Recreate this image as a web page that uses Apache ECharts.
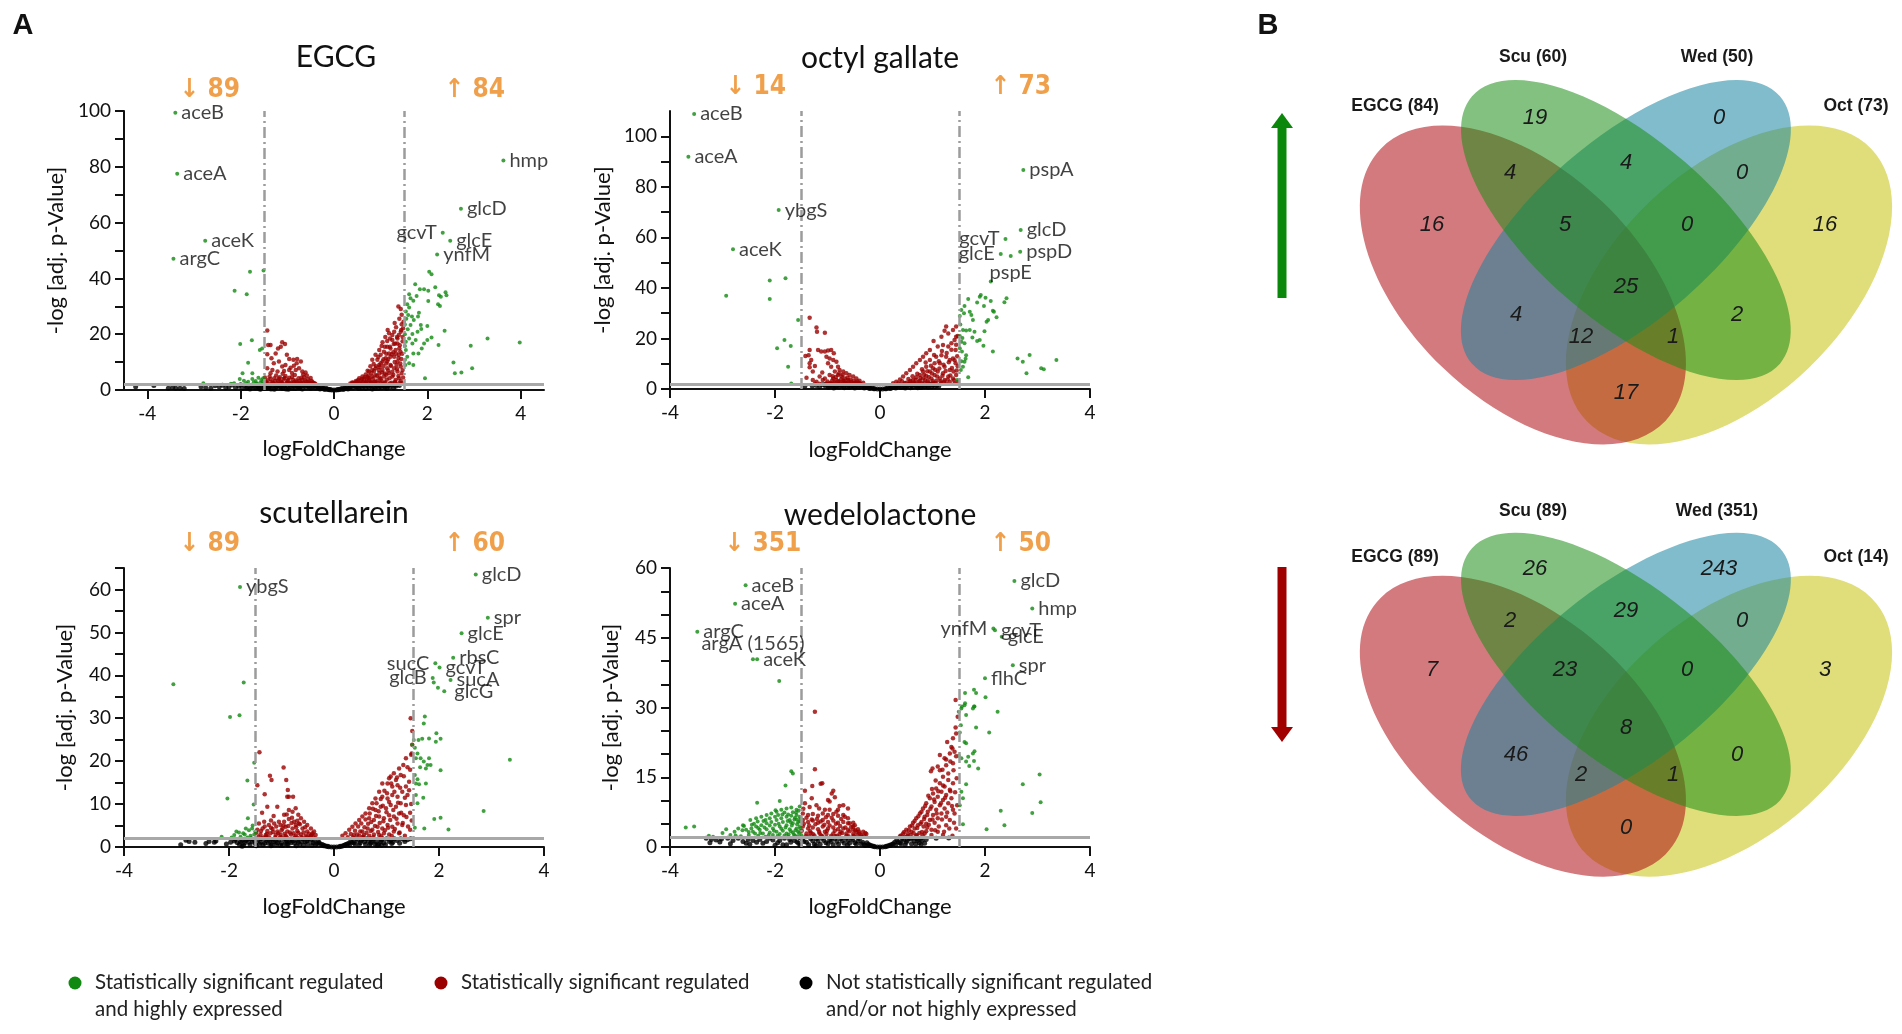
<!DOCTYPE html>
<html><head><meta charset="utf-8">
<script src="https://cdn.jsdelivr.net/npm/echarts@6/dist/echarts.min.js"></script>
<style>html,body{margin:0;padding:0;background:#fff}#c{width:1902px;height:1034px}</style>
</head><body><div id="c"></div>
<script>
// ---------------- DATA ----------------
const panelTitles = ['EGCG', 'octyl gallate', 'scutellarein', 'wedelolactone'];
const downCounts = [89, 14, 89, 351];
const upCounts = [84, 73, 60, 50];
const xTickValues = [-4, -2, 0, 2, 4];
const egcgYTicks = [0,10,20,30,40,50,60,70,80,90,100];
const egcgYLabels = [0,20,40,60,80,100];
const octYTicks = [0,10,20,30,40,50,60,70,80,90,100];
const octYLabels = [0,20,40,60,80,100];
const scuYTicks = [0,5,10,15,20,25,30,35,40,45,50,55,60,65];
const scuYLabels = [0,10,20,30,40,50,60];
const wedYTicks = [0,5,10,15,20,25,30,35,40,45,50,55,60];
const wedYLabels = [0,15,30,45,60];
const legendNames = ['Statistically significant regulated\nand highly expressed', 'Statistically significant regulated', 'Not statistically significant regulated\nand/or not highly expressed'];

// labelled genes: [name, logFoldChange, -log adj p]
const egcgLabeled = [['aceB',-3.40,99.4],['aceA',-3.36,77.5],['aceK',-2.76,53.5],['argC',-3.44,47.0],['hmp',3.63,82.3],['glcD',2.72,65.0],['gcvT',2.33,56.4],['glcE',2.49,53.5],['ynfM',2.21,48.6]];
const egcgGreen = [[-1.80,42.4],[-1.51,42.8],[-2.13,35.6],[-1.87,34.3],[-2.01,16.5],[-1.76,17.8],[-1.59,14.3],[-1.54,14.9],[-1.84,9.8],[-1.96,6.0],[-1.75,6.0],[-2.80,2.4],[-2.02,3.9],[-1.93,3.3],[-1.84,3.0],[-1.75,3.9],[-1.68,3.2],[-1.62,4.4],[-1.56,3.6],[-1.52,4.2],[-2.14,2.4],[-2.21,2.2],[-1.58,2.6],[-1.66,2.4],[-1.72,2.8],[-1.88,2.4],[-1.53,3.0],
[2.04,42.4],[2.09,41.5],[1.74,37.9],[1.84,36.1],[1.93,36.1],[2.17,36.8],[2.02,35.6],[2.39,35.0],[2.41,34.0],[2.25,34.0],[2.29,33.4],[1.61,34.3],[1.64,32.9],[1.70,32.0],[1.77,33.7],[1.57,30.7],[1.61,29.6],[1.54,28.1],[1.59,26.9],[1.67,26.3],[1.82,27.7],[1.80,26.3],[2.02,31.9],[2.23,30.7],[2.27,30.1],[1.71,25.1],[1.64,23.3],[1.52,23.5],[1.86,23.3],[2.00,22.9],[1.87,21.9],[1.79,20.9],[1.68,20.1],[2.37,21.2],[1.61,18.5],[1.54,17.3],[1.68,16.7],[1.75,17.9],[1.93,16.7],[2.00,17.9],[2.09,18.8],[2.24,16.1],[1.54,14.3],[1.70,13.1],[1.81,13.1],[1.88,14.9],[1.57,11.9],[1.52,10.8],[1.61,9.6],[1.70,9.0],[1.53,9.0],[1.95,4.2],[3.29,18.5],[2.93,15.9],[2.56,9.9],[2.59,6.0],[2.73,6.3],[2.96,7.8],[3.98,17.0],[1.52,20.0],[1.55,25.5],[1.52,15.8],[1.58,21.8]];
const egcgRed = [[-1.43,21.3],[-1.41,16.1],[-1.36,16.1],[-1.11,17.1],[-1.05,16.5],[-1.14,15.5],[-1.20,14.9],[-1.43,12.8],[-1.34,11.4],[-1.25,13.1],[-1.01,12.6],[-0.96,11.1],[-0.87,10.8],[-0.79,11.1],[-0.80,9.6],[-0.71,10.2],[-1.29,9.6],[-1.18,10.2],[-1.11,8.4],[-1.04,9.0],[-0.93,8.0],[-0.86,8.7],[-1.43,7.8],[-1.32,7.2],[-1.21,6.6],[-1.07,6.8],[-0.96,7.2],[-0.82,7.2],[-0.75,7.8],[-0.68,6.6],[-0.61,6.3],
[-1.48,4.5],[-1.42,3.5],[-1.38,4.8],[-1.33,3.0],[-1.28,4.2],[-1.24,5.2],[-1.20,3.4],[-1.16,4.6],[-1.12,2.8],[-1.08,3.9],[-1.04,5.0],[-1.00,3.2],[-0.96,4.4],[-0.92,2.6],[-0.88,3.7],[-0.84,5.4],[-0.80,3.0],[-0.76,4.2],[-0.72,2.7],[-0.68,3.6],[-0.64,4.6],[-0.60,3.0],[-0.56,3.9],[-0.52,2.6],[-0.48,3.2],[-0.44,2.5],[-0.40,2.2],[-1.45,2.5],[-1.30,2.3],[-1.15,2.2],[-1.00,2.4],[-0.85,2.3],[-0.70,2.2],[-0.55,2.2],[-1.36,6.0],[-1.10,5.8],[-0.90,6.1],[-0.66,5.6],[-0.58,5.2],[-0.50,4.3],
[-1.46,3.0],[-1.40,2.2],[-1.36,3.9],[-1.31,2.6],[-1.26,3.3],[-1.22,2.4],[-1.18,4.0],[-1.14,3.1],[-1.10,2.4],[-1.06,4.3],[-1.02,2.6],[-0.98,3.6],[-0.94,2.3],[-0.90,4.7],[-0.86,2.8],[-0.82,3.4],[-0.78,2.3],[-0.74,3.2],[-0.70,4.4],[-0.66,2.5],[-0.62,3.4],[-0.58,2.4],[-0.54,3.0],[-0.50,2.3],[-0.46,2.8],[-0.42,2.3],
[1.38,29.9],[1.43,29.0],[1.45,23.6],[1.48,22.1],[1.43,20.9],[1.39,19.7],[1.29,20.9],[1.18,20.3],[1.36,18.5],[1.25,17.9],[1.31,16.7],[1.04,17.1],[1.09,15.5],[1.14,17.6],[0.97,14.3],[0.89,12.6],[0.82,10.8],[1.21,14.9],[1.32,14.3],[1.39,12.6],[1.44,11.1],[1.36,10.2],[1.29,11.9],[1.18,13.1],[1.11,11.4],[1.04,10.2],[0.97,9.0],[0.89,7.8],[0.82,7.2],[0.75,6.6],[0.68,5.6],[0.61,4.8],[0.54,4.2],[0.47,3.2],[0.39,2.7],[1.43,8.4],[1.36,6.6],[1.29,7.8],[1.21,9.0],[1.14,7.8],[1.04,7.2],[0.97,6.0],[0.89,5.4],[0.82,4.8],[0.75,4.2],[1.39,4.2],[1.32,3.6],[1.18,6.0],[1.07,4.8],[1.00,4.0],[0.93,3.4],[0.86,3.0],[0.79,3.0],[1.43,3.2],[1.25,4.8],[1.21,11.9],[1.14,10.2],[1.07,13.7],[1.00,12.6],[0.93,10.8],[1.25,19.7],[1.14,15.5],[1.36,16.7],[0.35,2.3],[0.42,2.6],[0.50,3.0],[0.58,3.4],[0.65,3.9],[0.45,2.2],[0.55,2.4],[0.62,2.8],[0.70,3.2],[0.72,4.6],[0.68,2.4],[0.78,2.6],[0.88,2.3],[1.00,2.5],[1.10,2.8],[1.20,2.4],[1.30,2.6],[1.45,2.5],
[1.10,19.0],[1.20,18.5],[1.33,22.5],[1.40,25.5],[1.45,27.0],[1.30,24.0],[1.15,21.5],[1.02,15.8],[0.95,11.8],[1.27,13.5],[1.40,15.0],[1.47,17.5],[1.34,9.0],[1.25,6.5],[1.12,5.5],[0.98,8.2],[0.85,9.3],[0.78,8.5],[0.72,6.9],[1.45,6.0],[1.42,13.8],[1.47,19.0],
[0.40,2.5],[0.48,2.9],[0.52,3.6],[0.56,2.3],[0.60,3.9],[0.64,2.5],[0.66,4.6],[0.70,2.9],[0.74,5.2],[0.76,3.6],[0.80,6.0],[0.80,2.5],[0.84,4.1],[0.86,6.8],[0.88,3.0],[0.90,8.5],[0.92,5.0],[0.94,2.6],[0.96,7.2],[0.98,4.5],[1.00,9.6],[1.02,3.3],[1.03,6.3],[1.06,11.0],[1.06,8.6],[1.08,2.5],[1.09,5.9],[1.12,13.0],[1.12,9.5],[1.13,3.8],[1.16,7.0],[1.16,11.0],[1.19,4.2],[1.20,15.5],[1.22,8.6],[1.24,2.6],[1.24,12.8],[1.27,5.5],[1.28,16.5],[1.30,10.0],[1.31,3.0],[1.33,13.0],[1.35,19.0],[1.35,7.5],[1.38,5.0],[1.38,11.5],[1.41,16.0],[1.41,2.6],[1.42,9.5],[1.46,13.0],[1.47,7.2],[1.48,4.5],[1.44,21.5],[1.49,24.5]];
const egcgBlack = [[-4.25,1.2],[-3.86,1.6],[-3.55,0.6],[-3.46,0.9],[-3.39,0.6],[-3.30,0.6],[-3.21,0.5],[-2.85,1.2],[-2.75,0.8],[-2.64,0.6],[-2.55,1.5],[-2.46,1.2],[-2.39,1.7],[-2.32,0.8],[-2.25,1.2],[-2.18,1.8],[-2.11,0.8],[-2.04,1.3],[-1.97,0.5],[-1.92,1.7],[-1.86,1.0],[-1.80,0.4],[-1.75,1.6],[-1.70,0.9],[-1.65,1.9],[-1.60,0.5],[-1.55,1.3],[-1.50,0.8],[-1.45,1.8],[-1.40,1.1],[-1.35,0.4],[-1.30,1.5],[-1.25,0.8],[-1.20,1.9],[-1.15,1.2],[-1.10,0.5],[-1.05,1.6],[-1.00,1.0],[-0.95,1.9],[-0.90,0.6],[-0.85,1.3],[-0.80,1.8],[-0.75,0.8],[-0.70,1.4],[-0.65,1.9],[-0.60,0.9],[-0.55,1.5],[-0.50,0.6],[-0.45,1.2],[-0.40,0.7],[-0.35,1.0],[-0.30,0.4],[-0.25,0.6],[-0.20,0.2],[-0.15,0.3],[-0.10,0.06],[-0.05,0.02],[0.00,0.00],[0.05,0.02],[0.10,0.06],[0.15,0.3],[0.20,0.2],[0.25,0.6],[0.30,0.4],[0.35,1.0],[0.40,0.7],[0.45,1.4],[0.50,0.9],[0.55,1.8],[0.60,0.6],[0.65,1.3],[0.70,1.9],[0.75,0.8],[0.80,1.5],[0.85,1.0],[0.90,1.8],[0.95,0.6],[1.00,1.3],[1.05,1.9],[1.10,0.9],[1.15,1.5],[1.20,1.1],[1.25,1.8],[1.32,1.3],[1.40,1.6],[-1.62,1.2],[-1.42,0.6],[-1.18,1.4],[-0.98,0.3],[-0.78,1.2],[-0.58,1.9],[-0.42,1.7],[0.42,1.8],[0.62,1.6],[0.82,0.4],[1.02,0.8],
[-1.68,0.7],[-1.63,1.5],[-1.58,0.3],[-1.53,1.9],[-1.48,0.5],[-1.43,1.4],[-1.38,0.9],[-1.33,1.8],[-1.28,0.3],[-1.23,1.2],[-1.13,0.8],[-1.08,1.3],[-1.03,0.4],[-0.93,1.1],[-0.88,1.7],[-0.83,0.5],[-0.73,1.0],[-0.68,0.4],[-0.63,1.4],[-0.53,1.0],[-0.48,1.8],[-0.38,1.4],[-0.33,0.8],[-0.28,1.1],[-0.22,0.5],[-0.18,0.8],[-0.12,0.3],[-0.08,0.15],[0.08,0.15],[0.12,0.3],[0.18,0.7],[0.22,0.5],[0.28,1.0],[0.33,0.7],[0.38,1.5],[0.48,1.2],[0.53,0.5],[0.58,1.3],[0.68,0.5],[0.73,1.3],[0.78,1.9],[0.88,0.5],[0.93,1.3],[0.98,1.6],[1.08,1.4],[1.13,0.6],[1.18,1.8],[1.28,0.8],[1.35,1.9],[-1.78,1.1],[-1.88,0.6],[-2.00,1.9]];

const octLabeled = [['aceB',-3.54,108.8],['aceA',-3.65,91.9],['ybgS',-1.93,70.8],['aceK',-2.80,55.3],['pspA',2.73,86.7],['glcD',2.68,62.9],['gcvT',2.39,59.4],['glcE',2.30,53.4],['pspD',2.67,54.3],['pspE',2.49,52.6]];
const octGreen = [[-2.93,36.9],[-2.10,42.9],[-1.80,43.8],[-2.10,35.6],[-1.56,27.3],[-1.82,19.4],[-1.96,16.1],[-1.70,17.0],[-1.75,8.8],[-1.69,2.2],
[2.11,42.5],[1.68,35.6],[1.90,36.5],[1.92,37.2],[2.01,36.1],[2.11,34.8],[1.98,32.8],[2.15,31.0],[2.17,30.6],[2.22,28.4],[2.06,27.3],[2.03,26.6],[2.37,34.3],[2.41,35.9],[1.55,31.3],[1.60,30.0],[1.71,30.6],[1.74,29.3],[1.77,27.3],[1.85,34.2],[1.61,32.8],[1.52,28.9],[1.58,23.3],[1.64,23.1],[1.71,23.3],[1.80,22.7],[1.99,22.9],[1.52,21.0],[1.55,18.7],[1.61,18.1],[1.76,20.4],[1.85,19.0],[1.90,19.4],[1.97,17.1],[2.15,14.8],[1.56,14.8],[1.64,13.4],[1.61,10.8],[1.58,8.8],[1.54,7.5],[1.68,4.6],[1.47,3.6],[1.63,12.0],[1.52,16.1],[2.62,12.1],[2.72,10.8],[2.85,13.5],[2.79,6.2],[3.07,8.2],[3.12,7.8],[3.36,11.5],[1.53,25.5],[1.57,20.2],[1.55,11.0]];
const octRed = [[-1.34,28.2],[-1.21,24.3],[-1.20,22.7],[-1.05,22.3],[-1.34,15.4],[-1.36,13.4],[-1.42,13.1],[-1.31,11.5],[-1.34,10.2],[-1.24,9.1],[-1.34,8.6],[-1.28,6.9],[-1.18,15.4],[-1.12,14.8],[-1.05,14.8],[-0.99,15.2],[-0.93,15.4],[-0.88,14.1],[-1.02,12.8],[-0.96,12.1],[-0.89,11.5],[-0.83,10.8],[-0.99,10.2],[-0.93,8.8],[-0.80,8.8],[-0.77,7.5],[-0.70,6.9],[-0.64,6.2],[-0.58,5.5],[-0.51,4.9],[-0.45,4.2],[-0.39,3.3],[-0.32,2.5],[-0.86,6.9],[-0.80,5.5],[-0.73,4.9],[-0.67,4.2],[-0.61,3.6],[-0.55,2.9],[-0.96,5.5],[-0.89,4.2],[-0.83,3.6],[-0.77,2.9],[-0.70,2.5],[-0.64,2.2],[-1.09,3.6],[-1.15,4.9],[-1.21,2.9],[-1.28,3.6],[-1.02,2.2],[-0.93,2.1],[-0.86,2.2],[-1.15,2.1],[-1.24,2.1],[-0.48,2.5],[-0.42,2.2],[-0.58,2.1],[-1.40,4.5],[-1.10,6.5],
[-1.00,3.0],[-0.95,2.4],[-0.91,3.4],[-0.87,2.7],[-0.84,4.7],[-0.80,3.1],[-0.76,2.2],[-0.74,3.9],[-0.71,5.6],[-0.68,3.1],[-0.66,2.4],[-0.62,4.5],[-0.60,2.9],[-0.56,3.8],[-0.53,2.3],[-0.50,3.2],[-0.46,2.6],[-0.43,3.0],[-0.40,2.4],[-0.37,2.1],[-0.78,6.1],[-0.90,5.0],[-1.05,4.2],[-0.70,3.4],
[1.26,24.7],[1.23,23.0],[1.17,20.7],[1.30,22.0],[1.39,23.3],[1.45,24.7],[1.02,19.0],[1.10,16.8],[1.20,17.4],[1.30,16.8],[1.36,18.1],[1.42,19.4],[1.45,20.7],[1.44,15.4],[0.95,15.4],[0.88,14.1],[0.82,12.8],[0.76,11.5],[0.69,10.2],[0.63,8.8],[0.57,7.5],[0.50,6.2],[0.44,4.9],[0.38,3.8],[0.31,2.9],[0.25,2.3],[1.07,12.8],[1.17,13.4],[1.26,12.8],[1.33,11.5],[1.39,12.1],[1.44,10.2],[1.04,10.2],[1.14,10.2],[1.23,8.8],[1.33,7.5],[1.40,6.9],[0.95,11.5],[1.01,8.2],[1.10,6.9],[1.20,6.2],[1.30,4.9],[1.39,4.2],[1.45,5.5],[0.88,8.8],[0.95,6.9],[1.04,5.5],[1.14,4.2],[1.23,3.6],[1.33,2.9],[1.42,2.2],[0.82,6.9],[0.88,5.1],[0.98,4.2],[1.07,3.3],[1.17,2.5],[1.26,2.2],[0.76,5.5],[0.82,4.2],[0.91,3.3],[1.01,2.5],[0.69,4.6],[0.76,3.3],[0.85,2.5],[0.63,3.6],[0.72,2.2],[0.57,2.9],[0.66,2.1],[0.50,2.5],[0.60,2.1],[1.48,2.8],[1.48,9.0],[1.47,13.0],
[0.35,2.3],[0.42,3.1],[0.47,2.4],[0.54,4.0],[0.58,3.2],[0.62,5.0],[0.65,2.6],[0.68,3.6],[0.71,6.0],[0.74,2.9],[0.77,4.4],[0.80,7.8],[0.80,2.4],[0.84,5.6],[0.86,3.6],[0.87,10.5],[0.90,7.0],[0.92,2.6],[0.93,4.7],[0.97,9.2],[0.99,6.1],[1.00,3.2],[1.03,13.5],[1.05,7.6],[1.06,2.4],[1.09,4.9],[1.12,11.0],[1.13,8.1],[1.15,3.1],[1.18,15.0],[1.19,5.2],[1.21,9.6],[1.22,2.9],[1.25,7.1],[1.27,14.2],[1.29,3.8],[1.31,10.6],[1.34,5.3],[1.36,15.5],[1.37,8.3],[1.41,3.5],[1.42,11.4],[1.45,17.5],[1.46,7.3],[1.48,21.0]];
const octBlack = [[-1.43,1.2],[-1.29,1.2],[-1.21,1.4],[-1.04,1.2],[-0.96,1.2],[-1.00,1.6],[-0.90,1.2],[-0.80,1.8],[-0.70,1.0],[-0.60,1.5],[-0.50,0.9],[-0.45,1.7],[-0.40,0.6],[-0.35,1.2],[-0.30,0.35],[-0.25,0.8],[-0.20,0.15],[-0.15,0.4],[-0.10,0.05],[0.00,0.00],[0.10,0.05],[0.15,0.4],[0.20,0.15],[0.25,0.8],[0.30,0.35],[0.35,1.2],[0.40,0.6],[0.45,1.6],[0.50,0.9],[0.60,1.4],[0.70,1.0],[0.80,1.7],[0.90,1.2],[1.00,1.5],[1.05,1.0],[-0.95,1.9],[-0.85,0.9],[-0.75,1.4],[-0.65,1.9],[-0.55,1.2],[0.55,1.9],[0.65,1.8],[0.75,1.3],[0.85,0.9],[0.95,1.9],[-0.05,0.02],[0.05,0.02],[-1.10,1.7],[-0.62,0.7],[-0.48,0.4],[0.48,0.4],[0.62,0.7],[0.78,0.6],[0.92,0.7],[1.08,1.4],
[-1.15,0.9],[-1.05,1.8],[-0.98,0.6],[-0.92,1.6],[-0.88,0.4],[-0.82,1.2],[-0.78,0.7],[-0.72,1.6],[-0.68,0.5],[-0.58,0.6],[-0.52,1.5],[-0.42,1.1],[-0.38,1.8],[-0.32,0.9],[-0.28,0.6],[-0.22,0.5],[-0.18,0.25],[-0.12,0.1],[0.12,0.1],[0.18,0.25],[0.22,0.5],[0.28,0.6],[0.32,0.9],[0.38,1.7],[0.42,1.1],[0.52,1.4],[0.58,0.5],[0.68,1.4],[0.72,0.5],[0.82,1.2],[0.88,1.7],[0.98,0.9],[1.02,1.9],[1.12,1.2]];

const scuLabeled = [['ybgS',-1.79,60.6],['glcD',2.70,63.5],['spr',2.93,53.4],['glcE',2.43,49.8],['rbsC',2.27,44.1],['sucC',1.93,42.8],['gcvT',2.01,41.8],['sucA',2.22,38.9],['glcB',1.88,39.4],['glcG',2.10,36.3]];
const scuGreen = [[-3.06,37.9],[-1.72,38.3],[-1.98,30.3],[-1.80,30.7],[-1.52,19.6],[-1.65,15.5],[-2.03,11.3],[-1.53,9.9],[-1.64,6.7],[-1.68,4.3],[-1.62,3.9],[-1.56,4.3],[-1.50,3.6],[-1.73,3.2],[-1.81,3.4],[-1.90,2.8],[-1.95,2.2],[-1.59,2.6],[-1.52,2.9],[-2.14,2.4],[-1.65,2.2],[-1.78,2.4],[-1.86,3.6],[-1.55,5.0],[-1.70,2.9],
[1.73,30.4],[1.71,28.8],[1.52,24.9],[1.61,24.9],[1.68,25.2],[1.81,25.3],[1.95,26.5],[2.03,25.2],[1.94,24.5],[1.49,23.8],[1.54,23.1],[1.59,21.8],[1.56,20.7],[1.65,20.7],[1.71,19.9],[1.78,19.1],[1.84,19.1],[1.81,20.7],[1.75,18.3],[1.64,18.6],[2.03,17.9],[1.54,16.8],[1.59,15.8],[1.56,14.8],[1.62,14.6],[1.75,14.8],[1.70,11.5],[1.56,12.1],[1.59,10.2],[1.54,4.5],[1.72,4.3],[1.91,6.5],[2.03,6.8],[2.18,4.1],[2.85,8.4],[3.35,20.3],[1.90,38.3],[1.98,37.1]];
const scuRed = [[-1.42,22.1],[-1.46,14.4],[-1.22,16.6],[-1.19,15.6],[-1.32,12.3],[-1.27,9.4],[-1.08,9.4],[-0.96,18.5],[-0.91,15.6],[-0.89,11.7],[-0.86,11.7],[-0.78,11.7],[-0.88,13.3],[-1.43,5.5],[-1.33,5.9],[-1.24,5.1],[-1.14,5.5],[-1.05,5.9],[-0.95,7.5],[-0.86,8.6],[-0.79,8.2],[-0.73,9.0],[-0.68,7.5],[-0.63,6.7],[-0.57,5.9],[-0.51,5.1],[-0.44,4.3],[-0.38,3.6],[-1.46,4.0],[-1.36,4.3],[-1.27,3.7],[-1.17,4.2],[-1.08,3.6],[-0.98,4.3],[-0.89,3.6],[-0.79,4.3],[-0.70,3.7],[-0.60,4.3],[-0.51,3.6],[-0.41,3.2],[-1.40,2.9],[-1.30,2.8],[-1.21,3.2],[-1.11,2.8],[-1.02,2.9],[-0.92,2.6],[-0.82,2.9],[-0.73,2.6],[-0.63,2.9],[-0.54,2.6],[-0.44,2.6],[-0.35,2.8],[-0.95,5.9],[-0.86,6.5],[-0.76,5.9],[-0.67,5.5],[-1.02,5.1],[-0.92,4.7],[-0.73,5.1],[-1.37,8.0],[-1.15,7.2],[-1.30,2.3],[-1.00,2.3],[-0.70,2.2],
[-1.48,3.3],[-1.44,2.4],[-1.39,3.7],[-1.35,2.2],[-1.32,4.8],[-1.28,3.0],[-1.24,2.3],[-1.20,4.5],[-1.16,3.5],[-1.12,2.3],[-1.10,4.8],[-1.06,3.2],[-1.03,2.2],[-1.00,3.9],[-0.96,5.0],[-0.94,3.1],[-0.90,2.3],[-0.87,4.9],[-0.84,3.4],[-0.81,5.6],[-0.77,3.2],[-0.75,2.2],[-0.72,4.6],[-0.68,3.3],[-0.65,5.3],[-0.62,2.3],[-0.58,3.4],[-0.55,4.6],[-0.52,2.3],[-0.48,3.1],[-0.46,2.2],[-0.42,2.9],[-0.39,2.2],[-0.80,6.8],[-0.70,6.1],[-1.20,6.2],[-0.90,7.6],
[1.46,30.0],[1.49,23.8],[1.48,21.8],[1.37,20.7],[1.32,19.1],[1.24,18.3],[1.27,16.8],[1.18,15.6],[1.21,14.4],[1.11,14.1],[1.02,14.8],[0.92,14.8],[1.08,16.4],[1.14,17.2],[1.05,16.0],[0.86,12.9],[0.79,11.3],[0.73,10.2],[0.67,9.0],[0.60,7.8],[0.54,7.1],[0.48,6.3],[0.41,5.5],[0.35,4.7],[0.29,4.0],[0.22,3.2],[0.16,2.6],[1.40,12.1],[1.30,12.9],[1.21,11.7],[1.11,12.1],[1.02,11.3],[0.92,11.7],[1.37,9.8],[1.27,10.2],[1.18,9.4],[1.08,9.8],[0.99,9.0],[0.89,9.4],[0.79,8.6],[1.33,7.4],[1.24,7.8],[1.14,7.1],[1.05,7.4],[0.95,6.7],[0.86,7.1],[0.76,6.3],[0.67,6.7],[1.30,5.1],[1.21,5.5],[1.11,4.7],[1.02,5.1],[0.92,4.3],[0.83,4.7],[0.73,4.0],[0.64,4.3],[0.54,3.6],[1.24,3.2],[1.14,3.6],[1.05,2.9],[0.95,3.2],[0.86,2.8],[0.76,2.9],[0.67,2.6],[0.57,2.8],[0.48,2.6],[0.38,2.8],[1.43,15.2],[1.37,14.1],[1.45,8.0],[1.45,4.0],[1.35,2.6],[1.45,18.0],
[0.26,2.3],[0.32,3.0],[0.36,2.2],[0.40,3.8],[0.44,2.9],[0.46,4.8],[0.50,3.6],[0.52,5.5],[0.55,2.4],[0.58,4.6],[0.60,6.4],[0.62,3.3],[0.65,5.4],[0.68,7.8],[0.70,3.7],[0.71,5.8],[0.74,8.9],[0.75,2.3],[0.78,4.9],[0.80,7.2],[0.81,10.2],[0.84,3.5],[0.85,8.3],[0.87,5.6],[0.89,11.2],[0.90,2.5],[0.93,9.6],[0.94,6.0],[0.96,13.1],[0.97,3.9],[1.00,8.1],[1.01,12.5],[1.03,4.5],[1.05,10.5],[1.07,6.3],[1.09,14.8],[1.10,2.6],[1.13,8.6],[1.15,12.9],[1.16,4.2],[1.19,6.6],[1.20,16.2],[1.22,10.3],[1.25,3.4],[1.26,13.8],[1.28,8.0],[1.31,5.6],[1.33,16.5],[1.35,11.5],[1.38,7.0],[1.40,18.6],[1.41,4.8],[1.43,13.2],[1.47,10.0],[1.48,6.2],[1.47,21.5],[1.49,27.0]];
const scuBlack = [[-2.92,0.5],[-2.82,1.6],[-2.76,1.3],[-2.65,1.1],[-2.44,0.8],[-2.38,1.3],[-2.28,1.1],[-2.25,1.4],[-1.97,1.1],[-1.90,1.4],[-1.84,1.0],[-1.80,0.6],[-1.75,1.5],[-1.70,1.0],[-1.65,1.8],[-1.60,0.5],[-1.55,1.3],[-1.50,0.8],[-1.45,1.7],[-1.40,1.1],[-1.35,0.5],[-1.30,1.5],[-1.25,0.9],[-1.20,1.8],[-1.15,1.2],[-1.10,0.6],[-1.05,1.6],[-1.00,1.0],[-0.95,1.9],[-0.90,0.7],[-0.85,1.3],[-0.80,1.8],[-0.75,0.9],[-0.70,1.5],[-0.65,0.6],[-0.60,1.9],[-0.55,1.2],[-0.50,0.7],[-0.45,1.6],[-0.40,1.0],[-0.35,0.5],[-0.30,1.3],[-0.25,0.6],[-0.20,0.3],[-0.15,0.2],[-0.10,0.08],[-0.05,0.02],[0.00,0.00],[0.05,0.02],[0.10,0.08],[0.15,0.2],[0.20,0.35],[0.25,0.7],[0.30,0.5],[0.35,1.1],[0.40,0.7],[0.45,1.6],[0.50,1.0],[0.55,1.9],[0.60,0.6],[0.65,1.4],[0.70,0.9],[0.75,1.8],[0.80,1.2],[0.85,0.6],[0.90,1.6],[0.95,1.0],[1.00,1.9],[1.05,1.3],[1.10,0.8],[1.20,1.5],[1.27,1.9],[1.33,1.8],[1.46,1.9],[1.40,1.7],[-1.75,0.2],[-1.20,0.3],[-0.90,1.4],[0.90,0.4],[0.70,1.95],[-1.58,1.9],[-1.28,1.95],[-0.98,0.35],[-0.68,1.1],[-0.48,1.95],[0.48,0.5],[0.62,1.95],[0.82,0.35],[1.15,1.9],
[-1.78,1.2],[-1.72,0.4],[-1.68,1.5],[-1.62,1.1],[-1.52,1.5],[-1.48,0.3],[-1.42,0.7],[-1.38,1.9],[-1.32,0.9],[-1.22,1.3],[-1.18,0.5],[-1.12,1.5],[-1.08,1.0],[-1.02,0.4],[-0.92,1.1],[-0.88,0.4],[-0.82,1.0],[-0.78,1.4],[-0.72,0.3],[-0.62,1.3],[-0.58,0.4],[-0.52,1.4],[-0.42,0.4],[-0.38,1.5],[-0.32,0.8],[-0.28,1.0],[-0.22,0.6],[-0.18,0.35],[-0.12,0.15],[0.12,0.15],[0.18,0.35],[0.22,0.6],[0.28,0.9],[0.32,1.4],[0.38,1.0],[0.42,1.9],[0.52,1.5],[0.58,1.2],[0.68,0.5],[0.72,1.3],[0.78,0.7],[0.88,1.2],[0.92,1.9],[0.98,0.5],[1.08,1.6],[1.12,1.1],[1.25,0.9],[1.35,1.3],[-1.88,1.8],[-2.05,0.7]];

const wedLabeled = [['aceB',-2.56,56.3],['aceA',-2.76,52.3],['argC',-3.48,46.3],['argA (1565)',-2.42,40.4],['aceK',-2.34,40.4],['glcD',2.56,57.2],['hmp',2.90,51.3],['ynfM',2.16,47.0],['gcvT',2.19,46.6],['glcE',2.32,45.2],['spr',2.53,39.1],['flhC',2.00,36.3]];
const wedGreen = [[-1.92,35.7],[-1.69,16.3],[-1.66,15.8],[-1.80,13.2],[-2.34,9.5],[-1.91,9.9],[-3.70,4.2],[-3.54,4.4],[-2.93,3.8],[-2.70,4.0],[-2.61,4.7],[-2.47,5.8],[-2.36,6.2],[-2.26,6.5],[-2.16,6.9],[-2.07,7.2],[-1.97,7.6],[-1.88,8.0],[-1.78,8.3],[-1.69,8.5],[-1.59,8.0],[-1.53,8.7],[-2.55,3.7],[-2.45,4.0],[-2.36,4.4],[-2.26,4.7],[-2.16,5.1],[-2.07,5.4],[-1.97,5.8],[-1.88,6.2],[-1.78,6.5],[-1.69,6.7],[-1.59,6.9],[-1.53,6.5],[-2.42,3.3],[-2.29,3.7],[-2.16,3.8],[-2.04,4.0],[-1.91,4.4],[-1.78,4.7],[-1.66,5.1],[-1.56,5.4],[-2.23,2.9],[-2.10,3.1],[-1.97,3.3],[-1.85,3.5],[-1.72,3.8],[-1.59,4.0],[-1.53,4.4],[-2.04,2.6],[-1.91,2.8],[-1.78,2.9],[-1.66,3.1],[-1.56,3.3],[-1.85,5.4],[-1.72,5.8],[-1.63,5.9],[-2.10,6.2],[-1.94,6.9],[-3.26,2.4],[-3.18,2.2],[-2.59,4.5],[-2.77,3.3],[-3.00,3.0],[-2.85,2.6],[-2.65,2.3],[-2.50,2.6],[-2.32,2.4],[-2.18,2.2],[-1.62,2.4],[-1.75,2.2],[-1.50,2.6],[-1.52,5.5],[-1.60,7.4],[-1.75,7.0],[-2.00,4.8],[-2.22,5.6],[-2.40,5.0],
[-2.50,3.2],[-2.38,2.9],[-2.33,5.5],[-2.28,3.0],[-2.20,4.2],[-2.12,2.6],[-2.10,4.6],[-2.02,3.5],[-2.00,6.5],[-1.95,2.4],[-1.93,5.0],[-1.88,3.9],[-1.86,7.0],[-1.82,2.5],[-1.80,4.2],[-1.76,5.6],[-1.74,2.7],[-1.70,3.4],[-1.68,4.6],[-1.66,7.5],[-1.64,2.7],[-1.62,6.3],[-1.61,3.6],[-1.58,4.9],[-1.57,2.3],[-1.55,7.8],[-1.54,3.0],[-1.52,4.0],[-1.51,6.0],[-1.58,5.9],[-1.70,5.3],[-1.82,7.4],[-1.99,7.9],[-2.18,5.8],[-2.32,4.1],[-2.44,4.8],[-2.62,3.6],[-2.75,2.5],
[1.50,29.1],[1.55,29.8],[1.61,30.5],[1.64,28.4],[1.77,29.8],[1.80,30.2],[2.01,32.2],[2.24,29.1],[2.08,24.6],[1.83,25.7],[1.54,26.2],[1.61,22.6],[1.64,22.3],[1.52,24.6],[1.77,20.1],[1.80,20.6],[1.68,19.4],[1.87,16.9],[1.50,19.6],[1.55,19.1],[1.64,18.4],[1.70,17.4],[1.79,18.5],[1.55,11.9],[1.58,10.5],[1.52,9.0],[1.64,13.5],[1.58,4.9],[1.62,33.1],[1.79,33.8],[1.83,33.1],[1.62,30.9],[1.79,30.2],[1.56,30.2],[3.04,15.6],[2.72,13.5],[3.06,9.6],[2.90,7.3],[2.30,7.8],[2.37,4.7],[2.03,3.8]];
const wedRed = [[-1.24,29.1],[-1.24,16.7],[-1.13,13.6],[-1.10,13.7],[-1.29,13.1],[-1.43,12.1],[-0.89,12.1],[-1.43,9.4],[-1.21,9.0],[-0.99,10.1],[-0.96,9.8],[-0.86,10.7],[-0.77,8.8],[-0.70,9.0],[-0.61,8.3],[-0.83,7.6],[-0.67,6.5],[-0.51,4.4],[-0.58,5.1],[-0.48,4.7],[-1.47,7.2],[-1.37,6.9],[-1.28,7.1],[-1.18,6.7],[-1.09,7.2],[-0.99,6.9],[-0.89,7.1],[-0.80,6.7],[-0.70,6.9],[-0.61,6.2],[-1.47,5.8],[-1.37,5.4],[-1.28,5.7],[-1.18,5.2],[-1.09,5.8],[-0.99,5.4],[-0.89,5.7],[-0.80,5.2],[-0.70,5.4],[-0.61,5.1],[-0.51,5.2],[-1.47,4.4],[-1.37,4.0],[-1.28,4.2],[-1.18,3.8],[-1.09,4.4],[-0.99,4.0],[-0.89,4.2],[-0.80,3.8],[-0.70,4.0],[-0.61,3.7],[-0.51,3.7],[-0.42,3.8],[-0.32,3.3],[-1.40,2.9],[-1.28,2.8],[-1.15,2.9],[-1.02,2.8],[-0.89,2.9],[-0.77,2.8],[-0.64,2.9],[-0.51,2.8],[-0.39,2.9],[-0.26,2.8],[-1.33,3.4],[-1.05,3.3],[-0.75,3.3],[-0.45,3.2],[-1.35,2.3],[-1.10,2.3],[-0.85,2.3],[-0.60,2.3],[-0.35,2.2],[-1.05,8.0],[-1.30,10.5],[-0.92,11.5],
[-1.49,3.5],[-1.45,5.0],[-1.42,2.3],[-1.40,6.3],[-1.35,4.6],[-1.32,3.0],[-1.30,5.9],[-1.25,2.5],[-1.23,4.9],[-1.20,6.0],[-1.16,3.3],[-1.13,5.5],[-1.12,2.5],[-1.06,4.8],[-1.03,6.4],[-1.01,3.5],[-0.96,4.6],[-0.93,2.4],[-0.92,6.3],[-0.86,3.5],[-0.84,5.0],[-0.82,2.4],[-0.76,4.5],[-0.74,6.0],[-0.72,3.0],[-0.66,4.2],[-0.64,2.4],[-0.58,3.4],[-0.55,4.3],[-0.50,2.4],[-0.47,3.6],[-0.43,2.5],[-0.40,3.3],[-0.36,2.6],[-0.30,2.4],[-0.28,3.0],[-1.46,8.2],[-1.34,8.6],[-1.16,8.3],[-0.96,8.0],[-0.80,8.0],
[1.44,31.6],[1.44,25.7],[1.45,24.4],[1.39,23.4],[1.28,22.6],[1.38,21.2],[1.42,20.5],[1.33,20.1],[1.23,19.1],[1.14,19.8],[0.97,16.3],[1.00,16.9],[1.10,17.3],[1.19,16.6],[1.26,17.6],[1.34,18.4],[1.39,18.0],[1.20,15.1],[1.30,14.4],[1.39,13.7],[1.14,13.7],[1.23,13.0],[1.33,12.3],[1.07,12.6],[1.17,11.9],[1.26,11.2],[1.36,10.5],[1.01,11.5],[1.10,10.8],[1.20,10.1],[1.30,9.4],[0.95,10.5],[1.04,9.7],[1.14,9.0],[1.23,8.3],[1.39,8.0],[0.88,9.4],[0.98,8.7],[1.07,8.0],[1.17,7.2],[1.26,6.5],[0.82,8.3],[0.91,7.6],[1.01,6.9],[1.10,6.2],[0.76,7.2],[0.85,6.5],[0.95,5.8],[1.04,5.2],[0.69,6.2],[0.79,5.4],[0.88,5.0],[0.63,5.2],[0.72,4.7],[0.57,4.4],[0.66,4.0],[0.50,3.7],[0.60,3.3],[0.44,2.9],[0.53,2.8],[1.26,4.7],[1.45,4.0],[1.33,5.8],[1.42,7.2],[0.98,3.7],[1.10,3.3],[0.38,2.3],[0.47,2.2],[0.70,2.6],[0.85,2.9],[1.20,2.6],[1.38,2.4],[0.90,4.2],[0.80,3.2],
[0.40,2.5],[0.46,3.2],[0.52,2.3],[0.55,3.6],[0.58,2.6],[0.61,4.6],[0.64,3.0],[0.66,5.6],[0.69,2.4],[0.71,4.1],[0.73,6.6],[0.75,3.0],[0.77,5.0],[0.79,7.6],[0.81,2.5],[0.83,4.4],[0.84,6.0],[0.86,8.8],[0.88,3.4],[0.90,6.9],[0.92,11.0],[0.93,4.8],[0.96,8.2],[0.98,2.6],[0.99,12.5],[1.00,5.9],[1.03,10.2],[1.05,3.6],[1.06,14.3],[1.08,7.2],[1.11,12.0],[1.12,4.4],[1.14,16.5],[1.16,9.4],[1.18,5.9],[1.20,13.2],[1.22,3.3],[1.24,10.6],[1.26,18.8],[1.28,7.4],[1.30,15.8],[1.32,4.0],[1.34,12.0],[1.36,21.5],[1.37,8.8],[1.40,16.5],[1.41,5.2],[1.43,11.8],[1.45,19.5],[1.47,9.0],[1.48,28.0],[1.46,14.8]];
const wedBlack = [[-3.31,1.9],[-3.21,1.6],[-3.12,1.5],[-3.02,1.7],[-2.90,1.9],[-2.80,1.4],[-2.61,1.2],[-2.51,1.6],[-2.42,1.4],[-2.29,1.6],[-2.16,1.2],[-2.04,1.5],[-1.91,1.4],[-1.82,1.9],[-1.72,1.6],[-1.63,1.4],[-3.24,0.9],[-2.55,0.8],[-2.48,0.6],[-2.23,0.8],[-1.55,0.8],[-1.48,1.6],[-1.40,1.0],[-1.32,1.8],[-1.25,0.6],[-1.18,1.3],[-1.10,1.9],[-1.03,0.9],[-0.96,1.5],[-0.89,0.5],[-0.82,1.2],[-0.75,1.8],[-0.68,0.8],[-0.61,1.4],[-0.54,1.9],[-0.48,0.9],[-0.42,1.3],[-0.36,0.7],[-0.30,0.5],[-0.25,0.9],[-0.20,0.3],[-0.15,0.2],[-0.10,0.08],[-0.05,0.02],[0.00,0.00],[0.05,0.02],[0.10,0.08],[0.15,0.2],[0.20,0.3],[0.25,0.7],[0.30,0.5],[0.35,1.1],[0.40,0.7],[0.45,1.5],[0.50,1.0],[0.55,1.9],[0.60,0.7],[0.65,1.3],[0.70,1.8],[0.75,0.9],[0.80,1.4],[0.88,1.6],[1.07,1.9],[1.31,1.95],[-1.85,0.5],[-1.70,1.0],[-1.52,1.95],[-1.22,0.3],[-0.92,1.95],[-0.62,0.4],[0.62,1.95],[0.78,0.5],[-2.00,0.4],[-2.70,1.9],
[-1.58,1.1],[-1.52,0.4],[-1.45,1.2],[-1.36,0.5],[-1.28,1.3],[-1.21,1.8],[-1.14,0.6],[-1.07,1.4],[-0.99,0.7],[-0.93,1.2],[-0.86,1.8],[-0.79,0.6],[-0.72,1.3],[-0.65,1.9],[-0.58,0.8],[-0.52,1.5],[-0.45,0.6],[-0.39,1.8],[-0.33,1.0],[-0.28,0.3],[-0.22,0.6],[-0.18,0.4],[-0.12,0.15],[0.12,0.15],[0.18,0.4],[0.22,0.55],[0.28,1.0],[0.32,1.5],[0.38,0.9],[0.42,1.8],[0.48,0.5],[0.52,1.4],[0.58,1.8],[0.68,0.6],[0.72,1.4],[0.78,1.9],[0.85,0.8],[-2.10,1.9],[-1.95,0.9],[-1.78,0.5],[-2.35,1.0],[-2.85,0.7],[-3.05,1.1]];

// Venn (sets: EGCG, Scu, Wed, Oct)
const vennSetNames = ['EGCG', 'Scu', 'Wed', 'Oct'];
const vennUpSizes = [84, 60, 50, 73];
const vennDownSizes = [89, 89, 351, 14];
// regions: Scu, Wed, EGCG∩Scu, Scu∩Wed, Wed∩Oct, EGCG, EGCG∩Scu∩Wed, Scu∩Wed∩Oct, Oct, all, EGCG∩Wed, Scu∩Oct, EGCG∩Wed∩Oct, EGCG∩Scu∩Oct, EGCG∩Oct
const vennUpRegions = [19, 0, 4, 4, 0, 16, 5, 0, 16, 25, 4, 2, 12, 1, 17];
const vennDownRegions = [26, 243, 2, 29, 0, 7, 23, 0, 3, 8, 46, 0, 2, 1, 0];

// ---------------- LAYOUT / STYLE ----------------
const FONT = 'Lato, "DejaVu Sans", sans-serif';
const NARROW = '"Liberation Sans Narrow", "DejaVu Sans Condensed", sans-serif';
const ARIAL = '"Liberation Sans", Arial, sans-serif';
const C_GREEN = '#128a12', C_RED = '#9a0000', C_BLACK = '#000000', C_ORANGE = '#F0A04B';

const grids = [
  {left:124, top:111, width:420, height:279},
  {left:670, top:111, width:420, height:278},
  {left:124, top:568, width:420, height:279},
  {left:670, top:568, width:420, height:279}
];
const panelCfg = [
  {green:egcgGreen, red:egcgRed, black:egcgBlack, lab:egcgLabeled, xmin:-4.5, xmax:4.5, ymax:100, yt:egcgYTicks, yl:egcgYLabels, yGap:57, xGap:48, title:[336,57], cnt:[210,475,90]},
  {green:octGreen, red:octRed, black:octBlack, lab:octLabeled, xmin:-4, xmax:4, ymax:110, yt:octYTicks, yl:octYLabels, yGap:56, xGap:50, title:[880,58], cnt:[756,1021,87]},
  {green:scuGreen, red:scuRed, black:scuBlack, lab:scuLabeled, xmin:-4, xmax:4, ymax:65, yt:scuYTicks, yl:scuYLabels, yGap:48, xGap:49, title:[334,513], cnt:[210,475,544]},
  {green:wedGreen, red:wedRed, black:wedBlack, lab:wedLabeled, xmin:-4, xmax:4, ymax:60, yt:wedYTicks, yl:wedYLabels, yGap:48, xGap:49, title:[880,515], cnt:[763,1021,544]}
];
const labelPlacement = [
  {gcvT:{position:'left'}},
  {gcvT:{position:'left'}, glcE:{position:'left'}, pspE:{position:'bottom', offset:[16,-4]}},
  {rbsC:{offset:[0,-6]}, sucC:{position:'left', offset:[0,-4]}, gcvT:{offset:[0,-3]}, sucA:{offset:[0,-3]}, glcB:{position:'left'}, glcG:{distance:8}},
  {'argA (1565)':{position:'top', offset:[23,4]}, aceK:{offset:[0,6]}, ynfM:{position:'left', offset:[6,-7]}, gcvT:{offset:[0,-4]}, glcE:{offset:[0,2]}, spr:{offset:[0,-4]}}
];

const xAxes = [], yAxes = [], series = [];
panelCfg.forEach((p, i) => {
  xAxes.push({
    gridIndex:i, type:'value', min:p.xmin, max:p.xmax,
    axisLine:{show:true, onZero:false, lineStyle:{color:'#111', width:2}},
    axisTick:{show:true, customValues:xTickValues, length:9, lineStyle:{color:'#111', width:2}},
    axisLabel:{customValues:xTickValues, fontSize:19, color:'#111', fontFamily:FONT, margin:14},
    splitLine:{show:false},
    name:'logFoldChange', nameLocation:'middle', nameGap:p.xGap,
    nameTextStyle:{fontSize:22, color:'#111', fontFamily:FONT}
  });
  yAxes.push({
    gridIndex:i, type:'value', min:0, max:p.ymax,
    axisLine:{show:true, onZero:false, lineStyle:{color:'#111', width:2}},
    axisTick:{show:true, customValues:p.yt, length:9, lineStyle:{color:'#111', width:2}},
    axisLabel:{customValues:p.yl, fontSize:19, color:'#111', fontFamily:FONT, margin:13},
    splitLine:{show:false},
    name:'-log [adj. p-Value]', nameLocation:'middle', nameGap:p.yGap,
    nameTextStyle:{fontSize:22, color:'#111', fontFamily:FONT}
  });
  const dash = {type:[11,4,2,4], color:'#9c9c9c', width:2.5};
  const hl = {type:'solid', color:'#a8a8a8', width:3};
  series.push({
    type:'scatter', name:legendNames[2], xAxisIndex:i, yAxisIndex:i, data:p.black,
    symbolSize:5, itemStyle:{color:C_BLACK}, z:2, silent:true,
    markLine:{silent:true, symbol:['none','none'], label:{show:false}, animation:false,
      data:[
        [{coord:[-1.5,0], lineStyle:dash},{coord:[-1.5,p.ymax], lineStyle:dash}],
        [{coord:[1.5,0], lineStyle:dash},{coord:[1.5,p.ymax], lineStyle:dash}],
        [{coord:[p.xmin,2], lineStyle:hl},{coord:[p.xmax,2], lineStyle:hl}]
      ]}
  });
  series.push({type:'scatter', name:legendNames[1], xAxisIndex:i, yAxisIndex:i, data:p.red,
    symbolSize:4.5, itemStyle:{color:C_RED}, z:3, silent:true});
  series.push({type:'scatter', name:legendNames[0], xAxisIndex:i, yAxisIndex:i, data:p.green,
    symbolSize:4, itemStyle:{color:C_GREEN}, z:4, silent:true});
  series.push({type:'scatter', name:legendNames[0], xAxisIndex:i, yAxisIndex:i,
    data:p.lab.map(d => ({name:d[0], value:[d[1], d[2]], label:labelPlacement[i][d[0]] || {}})),
    symbolSize:4, itemStyle:{color:C_GREEN}, z:6, silent:true,
    label:{show:true, formatter:'{b}', position:'right', distance:4, fontSize:20, color:'#111', fontFamily:FONT},
    labelLayout:{hideOverlap:false}
  });
});

// ---------------- GRAPHIC ----------------
function txt(x, y, text, font, fill, align, extra) {
  return Object.assign({type:'text', x:x, y:y, silent:true, z:10,
    style:{text:text, font:font, fill:fill || '#111', align:align || 'center', textAlign:align || 'center', verticalAlign:'middle', textVerticalAlign:'middle'}}, extra || {});
}
const g = [];
g.push(txt(23, 26, 'A', 'bold 29px ' + ARIAL, '#111'));
g.push(txt(1268, 26, 'B', 'bold 29px ' + ARIAL, '#111'));
panelCfg.forEach((p, i) => {
  g.push(txt(p.title[0], p.title[1], panelTitles[i], '30px ' + FONT, '#111'));
  g.push(txt(p.cnt[0], p.cnt[2], '\u2193 ' + downCounts[i], 'bold 26px ' + NARROW, C_ORANGE));
  g.push(txt(p.cnt[1], p.cnt[2], '\u2191 ' + upCounts[i], 'bold 26px ' + NARROW, C_ORANGE));
});
// legend
const legendX = [75, 441, 806];
const legendColors = [C_GREEN, C_RED, C_BLACK];
legendNames.forEach((n, i) => {
  g.push({type:'circle', shape:{cx:legendX[i], cy:983, r:6.5}, style:{fill:legendColors[i]}, silent:true});
  g.push({type:'text', x:legendX[i] + 20, y:969, silent:true,
    style:{text:n, font:'20.5px ' + FONT, fill:'#222', align:'left', textAlign:'left', verticalAlign:'top', textVerticalAlign:'top', lineHeight:27}});
});
// Venn diagrams
const vennEllipses = [
  {cx:1729, cy:285, rx:197, ry:115, rot:43.7, fill:'rgba(199,195,13,0.55)'},
  {cx:1523, cy:285, rx:197, ry:115, rot:-43.7, fill:'rgba(175,13,20,0.55)'},
  {cx:1626, cy:230, rx:204, ry:90, rot:41, fill:'rgba(24,133,160,0.55)'},
  {cx:1626, cy:230, rx:204, ry:90, rot:-41, fill:'rgba(28,142,22,0.55)'}
];
const regionPos = [[1535,118],[1719,118],[1510,173],[1626,163],[1742,173],[1432,225],[1565,225],[1687,225],[1825,225],[1626,287],[1516,315],[1737,315],[1581,337],[1673,337],[1626,393]];
const setLabelPos = [[1395,106],[1533,57],[1717,57],[1856,106]];
function venn(yTop, sy, sizes, regions) {
  const mapY = y => yTop + (y - 79) * sy;
  g.push({type:'group', x:0, y:yTop - 79 * sy, scaleY:sy, silent:true,
    children: vennEllipses.map(e => ({type:'ellipse', x:e.cx, y:e.cy, rotation:e.rot * Math.PI / 180,
      shape:{cx:0, cy:0, rx:e.rx, ry:e.ry}, style:{fill:e.fill}}))});
  regions.forEach((v, k) => g.push(txt(regionPos[k][0], mapY(regionPos[k][1]), String(v), 'italic 22px ' + ARIAL, '#1a1a1a')));
  vennSetNames.forEach((n, k) => g.push(txt(setLabelPos[k][0], mapY(setLabelPos[k][1]), n + ' (' + sizes[k] + ')', 'bold 17.5px ' + ARIAL, '#1a1a1a')));
}
venn(79, 1, vennUpSizes, vennUpRegions);
venn(532, 0.943, vennDownSizes, vennDownRegions);
// arrows
g.push({type:'rect', shape:{x:1277.5, y:126, width:9, height:172}, style:{fill:'#0b870b'}, silent:true});
g.push({type:'polygon', shape:{points:[[1271,128],[1293,128],[1282,113]]}, style:{fill:'#0b870b'}, silent:true});
g.push({type:'rect', shape:{x:1277.5, y:567, width:9, height:162}, style:{fill:'#a00000'}, silent:true});
g.push({type:'polygon', shape:{points:[[1271,727],[1293,727],[1282,742]]}, style:{fill:'#a00000'}, silent:true});

const chart = echarts.init(document.getElementById('c'), null, {renderer:'canvas', width:1902, height:1034});
chart.setOption({
  animation:false,
  backgroundColor:'#ffffff',
  grid:grids.map(gr => Object.assign({outerBoundsMode:'none'}, gr)),
  xAxis:xAxes, yAxis:yAxes, series:series, graphic:{elements:g}
});
</script></body></html>
